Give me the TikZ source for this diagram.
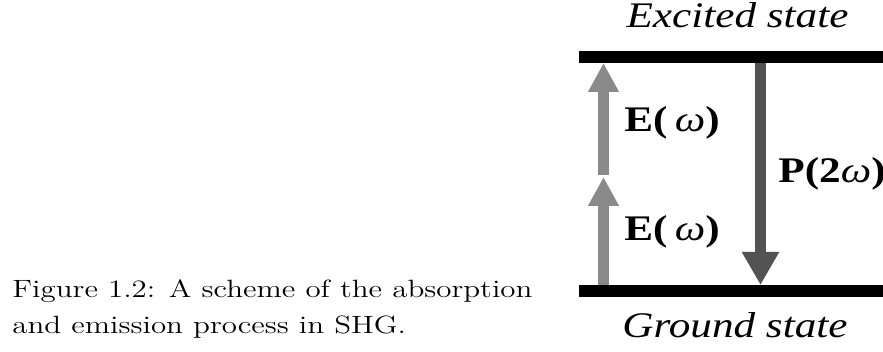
\documentclass[tikz,border=0pt]{standalone}
\usepackage{graphicx}
\usepackage{fontspec}
\newfontfamily\timesfont{Liberation Serif}
\usetikzlibrary{arrows.meta}
\definecolor{upgray}{RGB}{138,138,138}
\definecolor{downgray}{RGB}{82,82,82}
\newcommand{\wide}[1]{\scalebox{1.2}[1]{#1}}
\newcommand{\capwide}[1]{\scalebox{1.24}[1]{#1}}

\begin{document}
\begin{tikzpicture}[x=0.5pt,y=-0.5pt,
  statetext/.style={inner sep=0pt,anchor=base,font=\timesfont\itshape\fontsize{18}{18}\selectfont},
  fieldtext/.style={inner sep=0pt,anchor=base west,font=\timesfont\bfseries\fontsize{18}{18}\selectfont},
  captext/.style={inner sep=0pt,anchor=base west,font=\fontsize{12.5}{15}\selectfont},
  absorb/.style={upgray,line width=5.5pt,-{Triangle[width=14.5pt,length=14.5pt]}},
  emit/.style={downgray,line width=5.5pt,-{Triangle[width=17.5pt,length=16.5pt]}}]
\useasboundingbox (0,0) rectangle (883,352);

% Caption
\node[captext] (cap1) at (12,298) {\capwide{Figure 1.2: A scheme of the absorption}};
\node[captext] (cap2) at (12,333) {\capwide{and emission process in SHG.}};

% Energy levels
\fill (579,51) rectangle (883,63);
\fill (579,285) rectangle (883,297);
\node[statetext] (excited) at (737.5,28) {\wide{Excited state}};
\node[statetext] (ground) at (735,337) {\wide{Ground state}};

% End points on the levels
\coordinate (up-top) at (603.5,63);
\coordinate (up-mid) at (603.5,175);
\coordinate (low-mid) at (603.5,177);
\coordinate (up-bot) at (603.5,285);
\coordinate (down-top) at (760.5,63);
\coordinate (down-bot) at (760.5,285);

% Two photons absorbed
\draw[absorb] (up-bot) -- (low-mid);
\draw[absorb] (up-mid) -- (up-top);
\node[fieldtext] (e1) at (624,132) {\wide{E(\,{\mdseries\itshape ω})}};
\node[fieldtext] (e2) at (624,241) {\wide{E(\,{\mdseries\itshape ω})}};

% Emitted second harmonic
\draw[emit] (down-top) -- (down-bot);
\node[fieldtext] (p2) at (778,183) {\wide{P(2{\mdseries\itshape ω})}};
\end{tikzpicture}
\end{document}
